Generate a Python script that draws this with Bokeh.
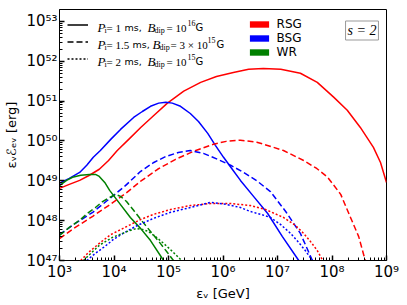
import numpy as np
from bokeh.plotting import figure
from bokeh.models import FixedTicker, Legend, LegendItem, Label, Range1d
from bokeh.embed import file_html
from bokeh.resources import INLINE

# ---- data: log10(eps_nu / GeV) and log10(eps_nu * E / erg) ----
rsg_solid_x = [3.00, 3.18, 3.37, 3.55, 3.73, 3.90, 4.06, 4.27, 4.49, 4.73, 4.98, 5.28, 5.59, 5.88, 6.19,
               6.47, 6.74, 7.06, 7.42, 7.73, 8.03, 8.28, 8.52, 8.76, 8.89, 9.00]
rsg_solid_y = [48.81, 48.91, 49.01, 49.14, 49.29, 49.51, 49.76, 50.04, 50.34, 50.64, 50.95, 51.25, 51.47, 51.62, 51.72,
               51.80, 51.82, 51.80, 51.70, 51.47, 51.10, 50.77, 50.34, 49.84, 49.46, 48.96]
bsg_solid_x = [3.00, 3.18, 3.37, 3.50, 3.62, 3.75, 3.94, 4.12, 4.36, 4.52, 4.67, 4.82, 4.95, 5.07, 5.22,
               5.40, 5.55, 5.72, 5.86, 6.01, 6.16, 6.32, 6.56, 6.82, 7.09, 7.39]
bsg_solid_y = [48.94, 49.06, 49.21, 49.39, 49.59, 49.76, 50.04, 50.29, 50.59, 50.74, 50.87, 50.95, 50.97, 50.95, 50.87,
               50.69, 50.49, 50.19, 49.89, 49.59, 49.31, 49.01, 48.61, 48.18, 47.60, 47.00]
wr_solid_x = [3.00, 3.13, 3.24, 3.39, 3.55, 3.66, 3.73, 3.83, 3.92, 4.06, 4.30, 4.49, 4.67, 4.91]
wr_solid_y = [48.88, 49.01, 49.09, 49.14, 49.16, 49.16, 49.11, 48.96, 48.76, 48.51, 48.08, 47.80, 47.50, 47.00]

rsg_dash_x = [3.00, 3.29, 3.61, 3.90, 4.21, 4.49, 4.80, 5.13, 5.46, 5.83, 6.06, 6.32, 6.62, 6.93, 7.11,
              7.48, 7.72, 7.92, 8.16, 8.34, 8.49, 8.61]
rsg_dash_y = [47.55, 47.83, 48.11, 48.38, 48.68, 48.99, 49.29, 49.54, 49.74, 49.92, 49.99, 50.02, 49.97, 49.84, 49.76,
              49.51, 49.31, 49.09, 48.66, 48.08, 47.60, 47.00]
bsg_dash_x = [3.00, 3.29, 3.61, 3.90, 4.21, 4.49, 4.73, 4.95, 5.18, 5.40, 5.64, 5.90, 6.14, 6.38, 6.63,
              6.87, 7.15, 7.42, 7.64]
bsg_dash_y = [47.65, 47.93, 48.21, 48.53, 48.88, 49.24, 49.46, 49.61, 49.71, 49.76, 49.69, 49.54, 49.39, 49.21, 48.99,
              48.73, 48.23, 47.68, 47.00]
wr_dash_x = [3.00, 3.18, 3.37, 3.51, 3.66, 3.79, 3.92, 4.03, 4.12, 4.23, 4.36, 4.49, 4.67, 4.85, 4.98, 5.09]
wr_dash_y = [47.63, 47.83, 48.01, 48.18, 48.33, 48.48, 48.58, 48.66, 48.61, 48.48, 48.26, 48.03, 47.73, 47.43, 47.20, 47.00]

rsg_dot_x = [3.39, 3.53, 3.73, 3.94, 4.23, 4.49, 4.73, 5.04, 5.40, 5.77, 6.14, 6.50, 6.78, 7.11, 7.33,
             7.48, 7.62, 7.73, 7.83]
rsg_dot_y = [47.00, 47.20, 47.43, 47.65, 47.85, 48.03, 48.16, 48.28, 48.38, 48.43, 48.43, 48.38, 48.28, 48.08, 47.88,
             47.68, 47.45, 47.25, 47.00]
bsg_dot_x = [3.50, 3.66, 3.83, 3.99, 4.19, 4.43, 4.73, 5.04, 5.40, 5.77, 6.05, 6.32, 6.50, 6.69, 6.87,
             7.06, 7.24, 7.39, 7.51, 7.64]
bsg_dot_y = [47.00, 47.18, 47.35, 47.53, 47.70, 47.88, 48.06, 48.21, 48.33, 48.46, 48.41, 48.33, 48.23, 48.16, 48.08,
             47.90, 47.68, 47.45, 47.25, 47.00]
wr_dot_x = [3.44, 3.59, 3.73, 3.97, 4.16, 4.28, 4.41, 4.52, 4.63, 4.78, 4.91, 5.07, 5.24]
wr_dot_y = [47.00, 47.20, 47.38, 47.58, 47.68, 47.75, 47.80, 47.78, 47.73, 47.58, 47.43, 47.23, 47.00]

x_tick_exps = [3, 4, 5, 6, 7, 8, 9]
y_tick_exps = [47, 48, 49, 50, 51, 52, 53]
progenitors = ["RSG", "BSG", "WR"]
prog_colors = ["#ff0000", "#0000ff", "#008000"]
p_spin = ["1", "1.5", "2"]
b_field = ["10", "3 × 10", "10"]
b_exp = ["16", "15", "15"]
s_text = "s = 2"

# ---- figure ----
XLO, XHI = 3.0, 9.0
YLO, YHI = 47.0, 53.3
FW, FH = 327, 251

p = figure(width=407, height=305, x_axis_type="log", y_axis_type="log",
           x_range=Range1d(10**XLO, 10**XHI), y_range=Range1d(10**YLO, 10**YHI),
           output_backend="svg", toolbar_location=None,
           min_border_left=59, min_border_right=21, min_border_top=9, min_border_bottom=45)
p.xgrid.visible = False
p.ygrid.visible = False
p.outline_line_color = "black"
p.outline_line_width = 1
p.background_fill_color = "white"
p.border_fill_color = "white"

SUP = str.maketrans("0123456789", "⁰¹²³⁴⁵⁶⁷⁸⁹")
def sup(n):
    return "10" + str(n).translate(SUP)

xminor = [k * 10.0**e for e in range(3, 9) for k in range(2, 10)]
yminor = [k * 10.0**e for e in range(47, 54) for k in range(2, 10)]
p.xaxis.ticker = FixedTicker(ticks=[10.0**e for e in x_tick_exps], minor_ticks=xminor)
p.yaxis.ticker = FixedTicker(ticks=[10.0**e for e in y_tick_exps], minor_ticks=yminor)
p.xaxis.major_label_overrides = {10.0**e: sup(e) for e in x_tick_exps}
p.yaxis.major_label_overrides = {10.0**e: sup(e) for e in y_tick_exps}

for ax in (p.xaxis[0], p.yaxis[0]):
    ax.major_tick_in = 5
    ax.major_tick_out = 0
    ax.minor_tick_in = 3
    ax.minor_tick_out = 0
    ax.major_tick_line_width = 1.5
    ax.axis_line_color = "black"
    ax.major_tick_line_color = "black"
    ax.minor_tick_line_color = "black"
    ax.major_label_text_font = "DejaVu Sans"
    ax.major_label_text_font_size = "15px"
    ax.major_label_text_color = "black"
    ax.axis_label_text_font = "DejaVu Sans"
    ax.axis_label_text_font_size = "13px"
    ax.axis_label_text_font_style = "normal"
    ax.axis_label_text_color = "black"
p.xaxis.major_label_standoff = 2
p.yaxis.major_label_standoff = 2
p.xaxis.axis_label = "εᵥ [GeV]"
p.yaxis.axis_label = "εᵥℰₑᵥ [erg]"
p.xaxis.axis_label_standoff = 2
p.yaxis.axis_label_standoff = 4

def pw(a):
    return 10.0 ** np.asarray(a)

series = [
    (rsg_solid_x, rsg_solid_y, 0, "solid"), (bsg_solid_x, bsg_solid_y, 1, "solid"), (wr_solid_x, wr_solid_y, 2, "solid"),
    (rsg_dash_x, rsg_dash_y, 0, "6 3"), (bsg_dash_x, bsg_dash_y, 1, "6 3"), (wr_dash_x, wr_dash_y, 2, "6 3"),
    (rsg_dot_x, rsg_dot_y, 0, "2 2"), (bsg_dot_x, bsg_dot_y, 1, "2 2"), (wr_dot_x, wr_dot_y, 2, "2 2"),
]
for xs, ys, ci, dash in series:
    p.line(pw(xs), pw(ys), line_color=prog_colors[ci], line_width=1.5, line_dash=dash, line_join="round")

# ---- helper: frame-relative pixel offset -> data coordinates (for annotations) ----
def at(px, py):
    return 10 ** (XLO + (XHI - XLO) * px / FW), 10 ** (YHI - (YHI - YLO) * py / FH)

# line-style legend samples (proxy renderers hold a single NaN point, so nothing is drawn)
style_items = []
for dash in ["solid", "6 3", "2 2"]:
    r = p.line([np.nan], [np.nan], line_color="black", line_width=1.5, line_dash=dash)
    style_items.append(LegendItem(label=" ", renderers=[r]))
leg1 = Legend(items=style_items, location=(8, 193.5), glyph_width=21, glyph_height=17,
              label_width=0, label_height=17, label_standoff=0, spacing=0, padding=0, margin=0,
              border_line_color=None, background_fill_alpha=0, label_text_font_size="6px")
p.add_layout(leg1, "center")

# progenitor colour legend
color_items = []
for name, col in zip(progenitors, prog_colors):
    r = p.quad(left=[np.nan], right=[np.nan], top=[np.nan], bottom=[np.nan], fill_color=col, line_color=None)
    color_items.append(LegendItem(label=name, renderers=[r]))
leg2 = Legend(items=color_items, location=(187.6, 201), glyph_width=24, glyph_height=8,
              label_height=14, label_standoff=6, spacing=0, padding=0, margin=0,
              border_line_color=None, background_fill_alpha=0,
              label_text_font="DejaVu Sans", label_text_font_size="12px", label_text_color="black")
p.add_layout(leg2, "center")

# math-like legend texts, built from pieces
row_base = [18, 35, 52]
row_x = [
    [38, 45, 47, 65, 88, 95, 107, 128, 136],
    [38, 45, 47, 73, 93, 100, 111, 148, 157],
    [38, 45, 47, 65, 88, 95, 107, 128, 136],
]
for i in range(3):
    xs = row_x[i]
    b = row_base[i]
    pieces = [
        ("P", "Liberation Serif", "italic", "13px", 0),
        ("i", "Liberation Serif", "normal", "8px", 3),
        ("= " + p_spin[i], "Liberation Serif", "normal", "11px", 0),
        ("ms,", "DejaVu Sans", "normal", "9.5px", 0),
        ("B", "Liberation Serif", "italic", "13px", 0),
        ("dip", "Liberation Serif", "normal", "8px", 3),
        ("= " + b_field[i], "Liberation Serif", "normal", "11px", 0),
        (b_exp[i], "Liberation Serif", "normal", "8px", -5),
        ("G", "DejaVu Sans", "normal", "10px", 0),
    ]
    for (txt, font, style, size, dy), px in zip(pieces, xs):
        x, y = at(px, b + dy)
        p.add_layout(Label(x=x, y=y, text=txt, text_font=font, text_font_style=style,
                           text_font_size=size, text_color="black",
                           text_align="left", text_baseline="alphabetic"))

sx, sy = at(302.5, 21)
p.add_layout(Label(x=sx, y=sy, text=s_text, text_font="Liberation Serif", text_font_style="italic",
                   text_font_size="14px", text_color="black", text_align="center", text_baseline="middle",
                   border_line_color="#999999", border_line_width=1, background_fill_color="white",
                   padding=2))

open("out.html", "w").write(file_html(p, INLINE))
